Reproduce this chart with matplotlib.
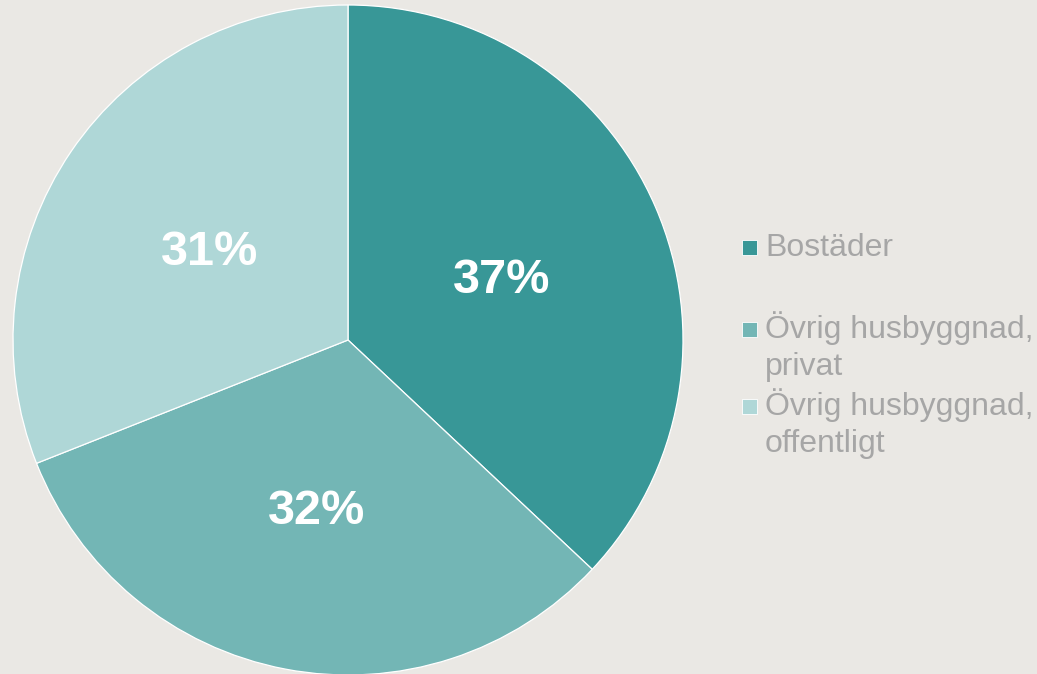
import matplotlib
matplotlib.use("Agg")
import matplotlib.pyplot as plt
from matplotlib.patches import Rectangle

categories = ["Bostäder", "Övrig husbyggnad,\nprivat", "Övrig husbyggnad,\noffentligt"]
values = [37, 32, 31]
colors = ["#389797", "#73B6B5", "#AFD7D7"]
bg = "#EAE8E4"
legend_color = "#A6A6A6"

W, H = 1037, 674
fig = plt.figure(figsize=(W / 100, H / 100), dpi=100, facecolor=bg)

cx, cy, r = 348, 340, 335
ax = fig.add_axes([(cx - r) / W, (H - cy - r) / H, 2 * r / W, 2 * r / H])
ax.set_facecolor(bg)
wedges, texts, autotexts = ax.pie(
    values, colors=colors, startangle=90, counterclock=False,
    autopct=lambda p: f"{p:.0f}%", pctdistance=0.5,
    wedgeprops=dict(edgecolor="white", linewidth=0.9),
    textprops=dict(color="white", fontsize=35, fontweight="bold", family="Liberation Sans"),
)
for t in autotexts:
    x, y = t.get_position()
    t.set_position((x, y - 0.02))
ax.set_xlim(-1, 1)
ax.set_ylim(-1, 1)
ax.set_aspect("equal")
ax.axis("off")

# legend (manual placement, PowerPoint-like)
first_baselines = [256, 338, 415]
line_step = 37
tx = 765
for cat, col, base in zip(categories, colors, first_baselines):
    fig.patches.append(Rectangle((742 / W, (H - base + 1) / H), 15 / W, 15 / H,
                                 transform=fig.transFigure, facecolor=col,
                                 edgecolor="white", linewidth=0.6))
    for i, line in enumerate(cat.split("\n")):
        fig.text(tx / W, (H - (base + i * line_step)) / H, line,
                 ha="left", va="baseline", color=legend_color,
                 fontsize=23, family="Liberation Sans")

fig.savefig("out.png", dpi=100, facecolor=bg)
